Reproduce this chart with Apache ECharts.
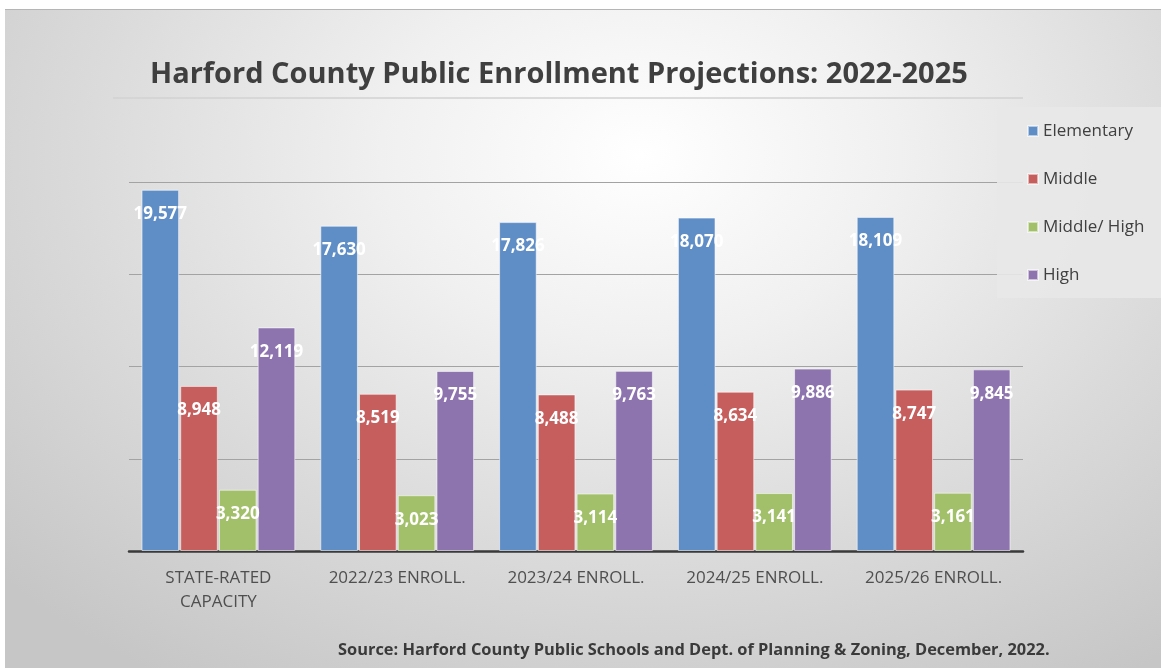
<!DOCTYPE html>
<html>
<head>
<meta charset="utf-8">
<script src="https://cdn.jsdelivr.net/npm/echarts@6/dist/echarts.min.js"></script>
<style>
  html, body { margin: 0; padding: 0; background: #ffffff; width: 1161px; height: 668px; overflow: hidden; }
  #chart {
    position: absolute; left: 5px; top: 9px; width: 1156px; height: 659px;
    border-top: 1px solid #b5b5b5;
    background: radial-gradient(ellipse 75% 95% at 55% 22%, #ffffff 0%, #f0f0f0 30%, #dadada 65%, #c6c6c6 100%);
  }
</style>
</head>
<body>
<div id="chart"></div>
<script>
const categories = ['STATE-RATED\nCAPACITY', '2022/23 ENROLL.', '2023/24 ENROLL.', '2024/25 ENROLL.', '2025/26 ENROLL.'];
const seriesNames = ['Elementary', 'Middle', 'Middle/ High', 'High'];
const elementary = [19577, 17630, 17826, 18070, 18109];
const middle = [8948, 8519, 8488, 8634, 8747];
const middleHigh = [3320, 3023, 3114, 3141, 3161];
const high = [12119, 9755, 9763, 9886, 9845];
const colors = ['#5f8dc5', '#c65e5e', '#a2c06a', '#8e74ae'];
const titleText = 'Harford County Public Enrollment Projections: 2022-2025';
const sourceText = 'Source: Harford County Public Schools and Dept. of Planning & Zoning, December, 2022.';

const chart = echarts.init(document.getElementById('chart'), null, { renderer: 'canvas' });
const FONT = "'Open Sans', 'Noto Sans', sans-serif";
const values = [elementary, middle, middleHigh, high];

const option = {
  backgroundColor: 'transparent',
  animation: false,
  textStyle: { fontFamily: FONT },
  title: [
    { text: titleText, left: 140, top: 45,
      textStyle: { fontFamily: FONT, fontSize: 29, fontWeight: 'bold', color: '#3f3f3f' } },
    { text: sourceText, left: 328, top: 627,
      textStyle: { fontFamily: FONT, fontSize: 16.4, fontWeight: 'bold', color: '#3a3a3a' } }
  ],
  legend: {
    orient: 'vertical', left: 1022, top: 111, padding: 0,
    itemWidth: 10, itemHeight: 10, itemGap: 28, icon: 'rect',
    textStyle: { fontFamily: FONT, fontSize: 17, color: '#404040', lineHeight: 20 },
    data: seriesNames, z: 10
  },
  graphic: [
    { type: 'line', shape: { x1: 108, y1: 88, x2: 1018, y2: 88 },
      style: { stroke: '#d2d2d2', lineWidth: 1.5 }, z: 1 },
    { type: 'rect', shape: { x: 992, y: 97, width: 170, height: 191 },
      style: { fill: 'rgba(232,232,232,0.9)' }, z: 3, silent: true }
  ],
  grid: { left: 124, right: 138, top: 172, bottom: 118, containLabel: false },
  xAxis: {
    type: 'category', data: categories,
    axisLine: { lineStyle: { color: '#3a3a3a', width: 2.5 } },
    axisTick: { show: false },
    axisLabel: { interval: 0, color: '#4f4f4f', fontSize: 17, lineHeight: 24, margin: 15, fontFamily: FONT }
  },
  yAxis: {
    type: 'value', min: 0, max: 20000, interval: 5000,
    axisLabel: { show: false }, axisLine: { show: false }, axisTick: { show: false },
    splitLine: { lineStyle: { color: '#a3a3a3', width: 1.2 } }
  },
  series: seriesNames.map((name, i) => ({
    name, type: 'bar', data: values[i],
    barCategoryGap: '14%', barGap: '3%',
    itemStyle: { color: colors[i], borderColor: 'rgba(255,255,255,0.55)', borderWidth: 1 },
    label: {
      show: true, position: 'insideTop', distance: 16,
      color: '#ffffff', fontWeight: 'bold', fontSize: 17, fontFamily: FONT,
      formatter: p => p.value.toLocaleString('en-US')
    }
  }))
};
chart.setOption(option);
</script>
</body>
</html>
